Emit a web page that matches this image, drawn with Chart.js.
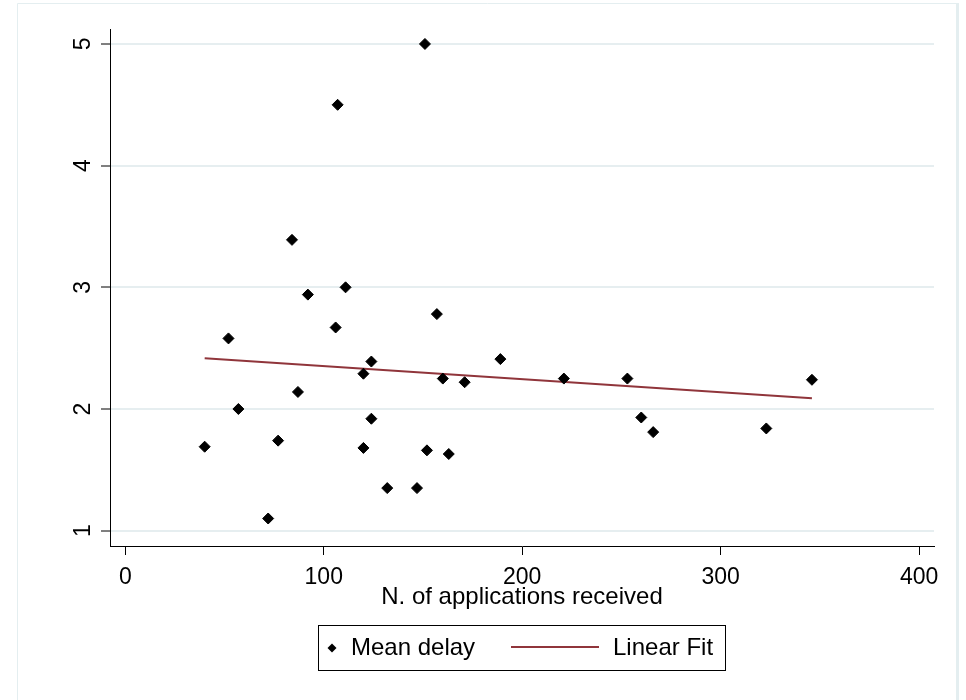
<!DOCTYPE html>
<html>
<head>
<meta charset="utf-8">
<title>Mean delay vs applications</title>
<script src="https://cdn.jsdelivr.net/npm/chart.js@4.4.1/dist/chart.umd.min.js"></script>
<style>
  html, body { margin: 0; padding: 0; background: #ffffff; }
  #wrap { width: 966px; height: 700px; }
</style>
</head>
<body>
<div id="wrap"><canvas id="canvas" width="966" height="700"></canvas></div>
<script>
// values
var applications = [40, 52, 57, 72, 77, 84, 87, 92, 106, 107, 111, 120, 120, 124, 124,
                    132, 147, 151, 152, 157, 160, 163, 171, 189, 221, 253, 260, 266, 323, 346];
var meanDelay = [1.69, 2.58, 2.00, 1.10, 1.74, 3.39, 2.14, 2.94, 2.67, 4.50, 3.00, 2.29, 1.68, 1.92, 2.39,
                 1.35, 1.35, 5.00, 1.66, 2.78, 2.25, 1.63, 2.22, 2.41, 2.25, 2.25, 1.93, 1.81, 1.84, 2.24];

// fitted line end points (as read)
var fitX = [40, 346];
var fitY = [2.417, 2.088];

var xTicks = [0, 100, 200, 300, 400];
var yTicks = [1, 2, 3, 4, 5];

var seriesNames = ["Mean delay", "Linear Fit"];
var xTitle = "N. of applications received";

var FONT = "'Liberation Sans', Arial, Helvetica, sans-serif";
var maroon = "#90353B";
var gridCol = "#E6EEF0";

var scatterPts = [];
for (var i = 0; i < applications.length; i++) {
  scatterPts.push({x: applications[i], y: meanDelay[i]});
}
var fitPts = [];
for (var j = 0; j < fitX.length; j++) {
  fitPts.push({x: fitX[j], y: fitY[j]});
}

// light outer frame, like the graph region edge
var framePlugin = {
  id: 'frame',
  beforeDraw: function(chart) {
    var ctx = chart.ctx;
    ctx.save();
    ctx.fillStyle = '#ffffff';
    ctx.fillRect(0, 0, chart.width, chart.height);
    ctx.strokeStyle = '#E4EEF0';
    ctx.lineWidth = 1;
    ctx.beginPath();
    ctx.moveTo(17.5, 3.5); ctx.lineTo(17.5, 700);
    ctx.moveTo(17.5, 3.5); ctx.lineTo(958, 3.5);
    ctx.stroke();
    ctx.lineWidth = 3;
    ctx.beginPath();
    ctx.moveTo(957.5, 3); ctx.lineTo(957.5, 700);
    ctx.stroke();
    ctx.restore();
  }
};

// boxed legend under the axis title
var legendPlugin = {
  id: 'boxLegend',
  afterDraw: function(chart) {
    var ctx = chart.ctx;
    ctx.save();
    ctx.strokeStyle = '#000000';
    ctx.lineWidth = 1;
    ctx.strokeRect(318.5, 625.5, 407, 45);

    var cy = 648;
    // diamond marker
    ctx.fillStyle = '#000000';
    ctx.beginPath();
    ctx.moveTo(332, cy - 4.5);
    ctx.lineTo(336.5, cy);
    ctx.lineTo(332, cy + 4.5);
    ctx.lineTo(327.5, cy);
    ctx.closePath();
    ctx.fill();

    ctx.font = "24px " + FONT;
    ctx.textBaseline = 'middle';
    ctx.textAlign = 'left';
    ctx.fillText(seriesNames[0], 351, cy);

    ctx.strokeStyle = maroon;
    ctx.lineWidth = 2;
    ctx.beginPath();
    ctx.moveTo(511, 647);
    ctx.lineTo(599, 647);
    ctx.stroke();

    ctx.fillStyle = '#000000';
    ctx.fillText(seriesNames[1], 613, cy);
    ctx.restore();
  }
};

var ctx = document.getElementById('canvas').getContext('2d');
var chart = new Chart(ctx, {
  type: 'scatter',
  data: {
    datasets: [
      {
        label: seriesNames[0],
        data: scatterPts,
        pointStyle: 'rectRot',
        pointRadius: 5.5,
        pointHoverRadius: 5.5,
        pointBorderWidth: 1,
        backgroundColor: '#000000',
        borderColor: '#000000'
      },
      {
        type: 'line',
        label: seriesNames[1],
        data: fitPts,
        borderColor: maroon,
        borderWidth: 2,
        pointRadius: 0,
        fill: false,
        tension: 0
      }
    ]
  },
  options: {
    responsive: false,
    animation: false,
    events: [],
    layout: {
      padding: {top: 29, right: 32, bottom: 88, left: 0}
    },
    plugins: {
      legend: {display: false},
      tooltip: {enabled: false},
      title: {display: false}
    },
    scales: {
      x: {
        type: 'linear',
        min: -7.7,
        max: 407.5,
        afterBuildTicks: function(scale) {
          scale.ticks = xTicks.map(function(v) { return {value: v}; });
        },
        afterFit: function(scale) { scale.height = 66; },
        grid: {
          display: true,
          drawOnChartArea: false,
          drawTicks: true,
          tickLength: 9,
          tickColor: '#000000',
          tickWidth: 1
        },
        border: {display: true, color: '#000000', width: 1},
        ticks: {
          color: '#000000',
          font: {family: FONT, size: 23},
          padding: 9,
          maxRotation: 0,
          minRotation: 0
        },
        title: {
          display: true,
          text: xTitle,
          color: '#000000',
          font: {family: FONT, size: 24},
          padding: {top: 0, bottom: 0}
        }
      },
      y: {
        type: 'linear',
        min: 0.874,
        max: 5.123,
        afterBuildTicks: function(scale) {
          scale.ticks = yTicks.map(function(v) { return {value: v}; });
        },
        afterFit: function(scale) { scale.width = 110; },
        grid: {
          display: true,
          drawOnChartArea: true,
          color: gridCol,
          lineWidth: 2,
          drawTicks: true,
          tickLength: 9,
          tickColor: '#000000',
          tickWidth: 1
        },
        border: {display: true, color: '#000000', width: 1},
        ticks: {
          color: '#000000',
          font: {family: FONT, size: 23},
          padding: 11,
          minRotation: 90,
          maxRotation: 90,
          crossAlign: 'center'
        }
      }
    }
  },
  plugins: [framePlugin, legendPlugin]
});
</script>
</body>
</html>
